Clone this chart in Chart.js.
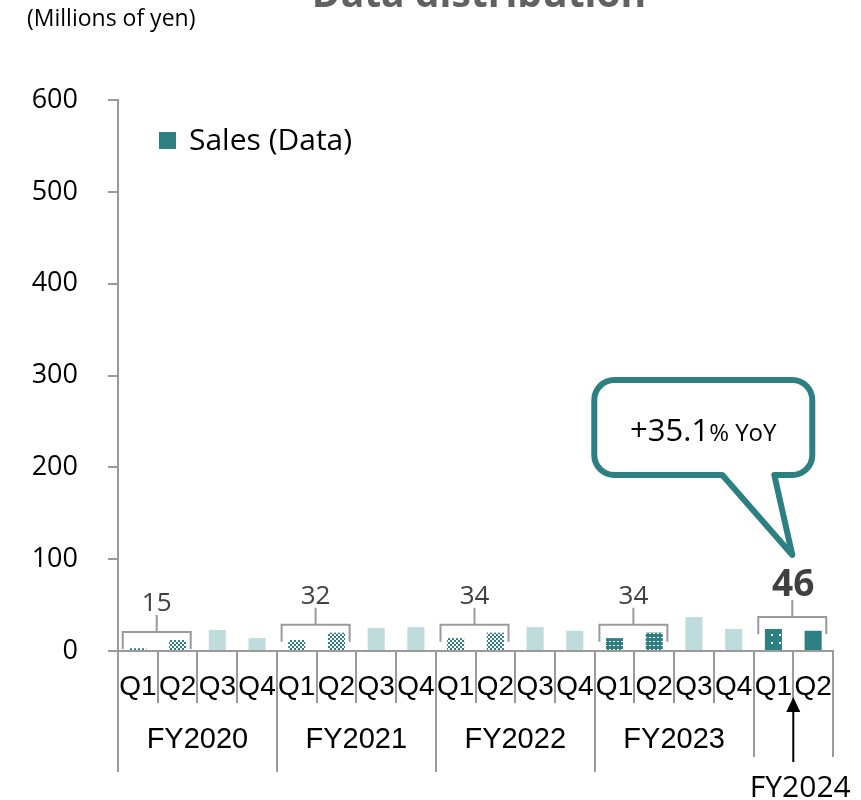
<!DOCTYPE html>
<html><head><meta charset="utf-8">
<script src="https://cdn.jsdelivr.net/npm/chart.js@4/dist/chart.umd.min.js"></script>
<style>html,body{margin:0;padding:0;background:#fff}#wrap{width:861px;height:800px;position:relative}
.fl{position:absolute;left:-9999px;top:0}</style>
</head><body><div id="wrap"><canvas id="c" width="861" height="800"></canvas></div>
<span class="fl" style="font-family:'Open Sans'">a</span><span class="fl" style="font-family:'Open Sans';font-weight:bold">a</span><span class="fl" style="font-family:'Liberation Sans'">a</span>
<script>
// ---- data ----
const quarterLabels = ['Q1','Q2','Q3','Q4','Q1','Q2','Q3','Q4','Q1','Q2','Q3','Q4','Q1','Q2','Q3','Q4','Q1','Q2'];
const fiscalYears = ['FY2020','FY2021','FY2022','FY2023','FY2024'];
const quartersPerYear = [4,4,4,4,2];
const salesValues = [3,12,23,14, 12,20,25,26, 14,20,26,22, 14,20,37,24, 24,22];
const barStyles = ['check','check','light','light','check','check','light','light','check','check','light','light','grid','grid','light','light','sparse','solid'];
const firstHalfTotals = [15,32,34,34,46];
const yTicks = [0,100,200,300,400,500,600];
const seriesName = 'Sales (Data)';
const chartTitle = 'Data distribution';
const unitLabel = '(Millions of yen)';
const yoyMain = '+35.1';
const yoySuffix = '% YoY';

// ---- styles ----
const TEAL = '#2D7F81';
const LIGHT = '#C0DBDC';
const GRAY = '#9A9A9A';
const SEGOE = '"Open Sans", "Noto Sans", sans-serif';
const ARIAL = '"Liberation Sans", Arial, sans-serif';

function makePattern(kind){
  const c = document.createElement('canvas');
  const g = c.getContext('2d');
  if (kind === 'check'){
    c.width = 4; c.height = 4;
    g.fillStyle = TEAL; g.fillRect(0,0,4,4);
    g.fillStyle = '#fff'; g.fillRect(0,0,2,2); g.fillRect(2,2,2,2);
  } else if (kind === 'grid'){
    c.width = 4; c.height = 4;
    g.fillStyle = TEAL; g.fillRect(0,0,4,4);
    g.fillStyle = '#fff'; g.fillRect(1,1,2,1);
  } else {
    c.width = 8; c.height = 8;
    g.fillStyle = TEAL; g.fillRect(0,0,8,8);
    g.fillStyle = '#fff'; g.fillRect(3,2,2,2);
  }
  return document.getElementById('c').getContext('2d').createPattern(c,'repeat');
}

const decor = {
  id:'decor',
  afterDraw(chart){
    const ctx = chart.ctx;
    const xs = chart.scales.x, ys = chart.scales.y;
    const area = chart.chartArea;
    const n = quarterLabels.length;
    const catW = (area.right - area.left) / n;
    const base = area.bottom;
    ctx.save();

    // title (clipped at top) and unit label
    ctx.fillStyle = '#616161';
    ctx.font = 'bold 39px ' + SEGOE;
    ctx.textAlign = 'center'; ctx.textBaseline = 'alphabetic';
    ctx.fillText(chartTitle, 479, 7);
    ctx.fillStyle = '#000';
    ctx.font = '23px ' + SEGOE;
    ctx.textAlign = 'left';
    ctx.fillText(unitLabel, 27, 26);

    // legend
    ctx.fillStyle = TEAL;
    ctx.fillRect(area.left + 41, area.top + 32, 17, 17);
    ctx.fillStyle = '#000';
    ctx.font = '30px ' + SEGOE;
    ctx.textBaseline = 'middle';
    ctx.fillText(seriesName, area.left + 71, area.top + 41);

    // quarter labels
    ctx.font = '28px ' + ARIAL;
    ctx.textAlign = 'center'; ctx.textBaseline = 'alphabetic';
    quarterLabels.forEach((q,i) => {
      ctx.fillText(q, xs.getPixelForValue(i), base + 44);
    });

    // separators
    ctx.strokeStyle = GRAY; ctx.lineWidth = 2;
    const yearStart = [];
    let acc = 0;
    quartersPerYear.forEach(k => { yearStart.push(acc); acc += k; });
    const lastYear = fiscalYears.length - 1;
    for (let b = 0; b <= n; b++){
      const x = Math.round(area.left + b*catW);
      let len = 52;
      const yi = yearStart.indexOf(b);
      if (yi >= 0 || b === n){
        const inLast = (yi === lastYear) || (b === n && quartersPerYear[lastYear] < 4);
        len = inLast ? 106 : 121;
      }
      ctx.beginPath(); ctx.moveTo(x, base); ctx.lineTo(x, base + len); ctx.stroke();
    }

    // fiscal year labels
    ctx.fillStyle = '#000';
    fiscalYears.forEach((fy, k) => {
      const x0 = area.left + yearStart[k]*catW;
      const x1 = x0 + quartersPerYear[k]*catW;
      if (quartersPerYear[k] >= 4){
        ctx.font = '29px ' + ARIAL;
        ctx.textAlign = 'center';
        ctx.fillText(fy, (x0+x1)/2, base + 97);
      } else {
        const ax = x0 + catW;
        ctx.strokeStyle = '#000'; ctx.lineWidth = 2;
        ctx.beginPath(); ctx.moveTo(ax, base + 58); ctx.lineTo(ax, base + 111); ctx.stroke();
        ctx.beginPath();
        ctx.moveTo(ax, base + 46); ctx.lineTo(ax - 7, base + 61); ctx.lineTo(ax + 7, base + 61);
        ctx.closePath(); ctx.fill();
        ctx.font = '30px ' + SEGOE;
        ctx.textAlign = 'center';
        ctx.fillText(fy, ax + 7, base + 146);
      }
    });

    // first-half brackets and totals
    let tip = null;
    firstHalfTotals.forEach((tot, k) => {
      const i = yearStart[k];
      const latest = k === lastYear;
      const cx = area.left + (i+1)*catW - 1;
      const top = ys.getPixelForValue(Math.max(salesValues[i], salesValues[i+1])) - (latest ? 12 : 8);
      ctx.strokeStyle = GRAY; ctx.lineWidth = 2;
      ctx.beginPath();
      ctx.moveTo(cx - 34, top + 17); ctx.lineTo(cx - 34, top); ctx.lineTo(cx + 34, top); ctx.lineTo(cx + 34, top + 17);
      ctx.moveTo(cx, top); ctx.lineTo(cx, top - 17);
      ctx.stroke();
      ctx.fillStyle = '#404040';
      ctx.font = (latest ? 'bold 37px ' : '26px ') + SEGOE;
      ctx.textAlign = 'center';
      ctx.fillText(String(tot), cx + (latest ? 1 : 0), top - 21);
      if (latest) tip = {x: cx, y: top - 62};
    });

    // YoY callout
    if (tip){
      const L = tip.x - 198, R = tip.x + 20, T = tip.y - 175, B = tip.y - 80, r = 20;
      ctx.beginPath();
      ctx.moveTo(L + r, T);
      ctx.lineTo(R - r, T); ctx.arcTo(R, T, R, T + r, r);
      ctx.lineTo(R, B - r); ctx.arcTo(R, B, R - r, B, r);
      ctx.lineTo(tip.x - 18, B);
      ctx.lineTo(tip.x, tip.y);
      ctx.lineTo(tip.x - 70, B);
      ctx.lineTo(L + r, B); ctx.arcTo(L, B, L, B - r, r);
      ctx.lineTo(L, T + r); ctx.arcTo(L, T, L + r, T, r);
      ctx.closePath();
      ctx.fillStyle = '#fff'; ctx.fill();
      ctx.strokeStyle = TEAL; ctx.lineWidth = 6; ctx.lineJoin = 'round'; ctx.stroke();
      ctx.fillStyle = '#000';
      ctx.textAlign = 'left';
      const f1 = '31px ' + SEGOE, f2 = '24px ' + SEGOE;
      ctx.font = f1; const w1 = ctx.measureText(yoyMain).width;
      ctx.font = f2; const w2 = ctx.measureText(yoySuffix).width;
      const sx = (L + R)/2 - (w1 + w2)/2;
      ctx.font = f1; ctx.fillText(yoyMain, sx, tip.y - 114);
      ctx.font = f2; ctx.fillText(yoySuffix, sx + w1, tip.y - 114);
    }
    ctx.restore();
  }
};

function build(){
  const fills = barStyles.map(s => s === 'light' ? LIGHT : s === 'solid' ? TEAL : makePattern(s));
  new Chart(document.getElementById('c'), {
    type: 'bar',
    data: {
      labels: quarterLabels,
      datasets: [{
        label: seriesName,
        data: salesValues,
        backgroundColor: fills,
        borderWidth: 0,
        barPercentage: 0.43,
        categoryPercentage: 1
      }]
    },
    options: {
      responsive: false,
      animation: false,
      devicePixelRatio: 1,
      layout: {padding: {top: 100, right: 28, left: 0, bottom: 0}},
      plugins: {legend: {display: false}, tooltip: {enabled: false}, title: {display: false}},
      scales: {
        x: {
          ticks: {display: false},
          grid: {display: false},
          border: {display: true, color: GRAY, width: 2},
          afterFit(s){ s.height = 149; }
        },
        y: {
          min: 0, max: 600,
          afterBuildTicks(s){ s.ticks = yTicks.map(v => ({value: v})); },
          ticks: {color: '#000', font: {family: SEGOE, size: 27}, padding: 30},
          grid: {drawOnChartArea: false, drawTicks: true, tickLength: 10, color: GRAY, lineWidth: 2},
          border: {display: true, color: GRAY, width: 2},
          afterFit(s){ s.width = 118; }
        }
      }
    },
    plugins: [decor]
  });
}

Promise.all([
  document.fonts.load('25px "Open Sans"'),
  document.fonts.load('bold 32px "Open Sans"'),
  document.fonts.load('28px "Liberation Sans"')
]).catch(()=>{}).then(() => document.fonts.ready).then(build);
</script>
</body></html>
